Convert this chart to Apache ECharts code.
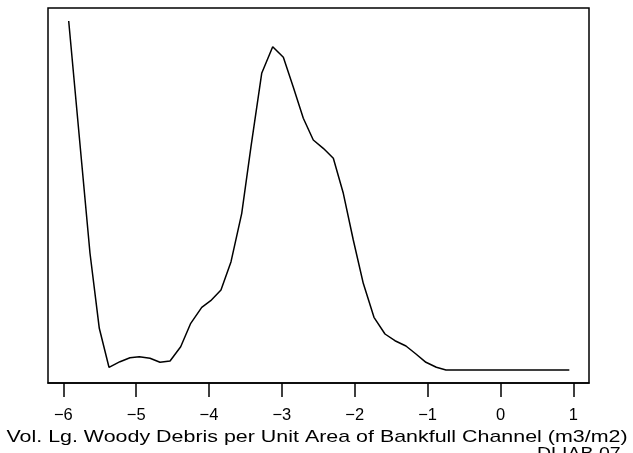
<!DOCTYPE html>
<html>
<head>
<meta charset="utf-8">
<script src="https://cdn.jsdelivr.net/npm/echarts@6/dist/echarts.min.js"></script>
<style>
    html, body { margin: 0; padding: 0; background: #fff; }
    #container { width: 633px; height: 453px; }
</style>
</head>
<body>
<div id="container"></div>
<script>
    // log10 volume (x) and density height (arbitrary units)
    let logVolume = [-5.926, -5.747, -5.634, -5.506, -5.373, -5.222, -5.085, -4.957, -4.810, -4.673,
        -4.535, -4.389, -4.251, -4.100, -3.977, -3.836, -3.698, -3.551, -3.424, -3.277,
        -3.126, -2.980, -2.843, -2.706, -2.569, -2.432, -2.294, -2.157, -2.020, -1.883,
        -1.736, -1.585, -1.448, -1.297, -1.160, -1.023, -0.880, -0.748, 0.945];
    let density = [349, 206.7, 117, 41.7, 2.7, 8.3, 12.3, 13.3, 11.7, 7.7,
        9, 23.3, 46.7, 62.7, 69.3, 80, 108.3, 156.7, 223.3, 296.7,
        323.3, 312.7, 282.7, 251.7, 230, 221.7, 211.7, 176.7, 130, 86.7,
        52.7, 36, 29.3, 24, 16, 7.7, 2.7, 0, 0];
    let xTicks = [-6, -5, -4, -3, -2, -1, 0, 1];
    let xTitle = 'Vol. Lg. Woody Debris per Unit Area of Bankfull Channel (m3/m2)';

    let dom = document.getElementById("container");
    let myChart = echarts.init(dom);

    let lineData = [];
    logVolume.forEach(function(x, i) {
        lineData.push([x, density[i]]);
    });

    let option = {
        animation: false,
        grid: {
            left: 48,
            right: 44,
            top: 8,
            bottom: 70,
            show: true,
            borderColor: '#000',
            borderWidth: 1.5,
            backgroundColor: '#fff'
        },
        xAxis: {
            type: 'value',
            min: -6.21,
            max: 1.215,
            interval: 1,
            axisLine: { show: true, onZero: false, lineStyle: { color: '#000', width: 1.5 } },
            splitLine: { show: false },
            axisTick: {
                show: true,
                inside: false,
                length: 14,
                lineStyle: { color: '#000', width: 1.5 },
                customValues: xTicks
            },
            axisLabel: {
                customValues: xTicks,
                margin: 24,
                fontFamily: 'Liberation Sans',
                fontSize: 16.5,
                color: '#000',
                formatter: function(v) {
                    return String(v).replace('-', '\u2212');
                }
            }
        },
        yAxis: {
            type: 'value',
            min: -13,
            max: 362,
            show: false,
            splitLine: { show: false }
        },
        series: [{
            type: 'line',
            data: lineData,
            symbol: 'none',
            smooth: false,
            lineStyle: { color: '#000', width: 1.5 }
        }],
        graphic: [{
            // 轴标题（原图文字横向拉伸）
            type: 'text',
            x: 317,
            y: 437,
            scaleX: 1.26,
            style: {
                text: xTitle,
                fontFamily: 'Liberation Sans',
                fontSize: 17,
                fill: '#000',
                align: 'center',
                verticalAlign: 'middle'
            }
        }, {
            type: 'text',
            x: 537,
            y: 446,
            scaleX: 1.15,
            style: {
                text: 'DLIAB 07',
                fontFamily: 'Liberation Sans',
                fontSize: 17,
                fill: '#000'
            }
        }]
    };
    myChart.setOption(option, true);
</script>
</body>
</html>
